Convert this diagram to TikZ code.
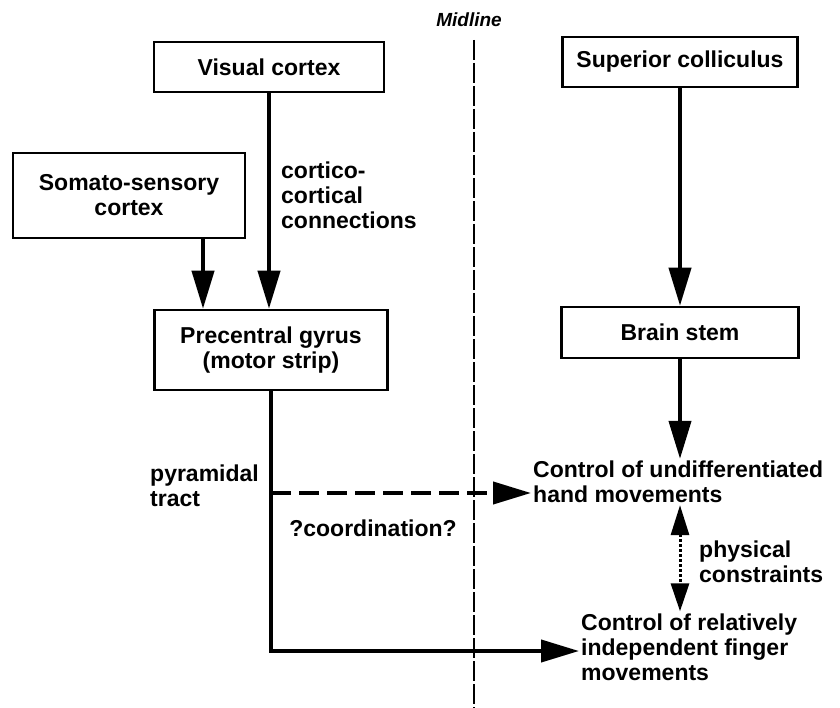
\documentclass[tikz,border=0pt]{standalone}
\usepackage{fontspec}
\setmainfont{Liberation Sans}
\usetikzlibrary{arrows.meta}
\tikzset{
  box/.style={draw, line width=2.5pt, rectangle, align=center, font=\fontsize{23}{25}\selectfont\bfseries},
  lbl/.style={align=left, inner sep=2pt, font=\fontsize{23}{25}\selectfont\bfseries},
  arr/.style={line width=4pt, -{Triangle[length=38pt,width=22pt]}},
  dbl/.style={line width=3pt, dotted, {Triangle[length=30pt,width=18pt]}-{Triangle[length=28pt,width=18pt]}},
  midline/.style={line width=2pt, dash pattern=on 20pt off 3pt}
}
\begin{document}
\begin{tikzpicture}[x=1pt,y=-1pt]
\useasboundingbox (0,0) rectangle (840,708);
% draw midline
\coordinate (mtop) at (474,40);
\coordinate (mbot) at (474,708);
\draw[midline] (mtop) -- (mbot);
\node[font=\fontsize{19}{21}\selectfont\bfseries\itshape] (mlabel) at (469,20) {Midline};
% draw boxes
\node[box, minimum width=230pt, minimum height=50pt] (visual) at (269,67) {Visual cortex};
\node[box, minimum width=232pt, minimum height=85pt] (somato) at (129,195.5) {Somato-sensory\\cortex};
\node[box, minimum width=233pt, minimum height=80pt] (precentral) at (271,350) {Precentral gyrus\\(motor strip)};
\node[box, minimum width=235pt, minimum height=50pt] (superior) at (680,62) {Superior colliculus};
\node[box, minimum width=237pt, minimum height=51pt] (brainstem) at (680,332.5) {Brain stem};
% draw labels
\node[lbl, anchor=west] (cortico) at (279,195) {cortico-\\cortical\\connections};
\node[lbl, anchor=west] (pyramidal) at (148,486) {pyramidal\\tract};
\node[lbl, anchor=west] (undiff) at (531,482) {Control of undifferentiated\\hand movements};
\node[lbl, anchor=west] (indep) at (579,647) {Control of relatively\\independent finger\\movements};
\node[lbl, anchor=west] (physical) at (697,562) {physical\\constraints};
\node[lbl] (coord) at (373,528) {?coordination?};
% draw connections
\draw[arr] ([xshift=-68pt]precentral.north |- somato.south) -- ([xshift=-68pt]precentral.north);
\draw[arr] (visual.south) -- (visual.south |- precentral.north);
\draw[arr] (superior.south) -- (superior.south |- brainstem.north);
\draw[arr] (brainstem.south) -- (brainstem.south |- undiff.north);
\draw[dbl] (brainstem.south |- undiff.south) -- (brainstem.south |- indep.north);
\draw[arr] (precentral.south) |- ([yshift=-4pt]indep.west);
\coordinate (dstart) at (271,493);
\draw[arr, dash pattern=on 20pt off 8pt] (dstart) -- (dstart -| undiff.west);
\end{tikzpicture}
\end{document}
